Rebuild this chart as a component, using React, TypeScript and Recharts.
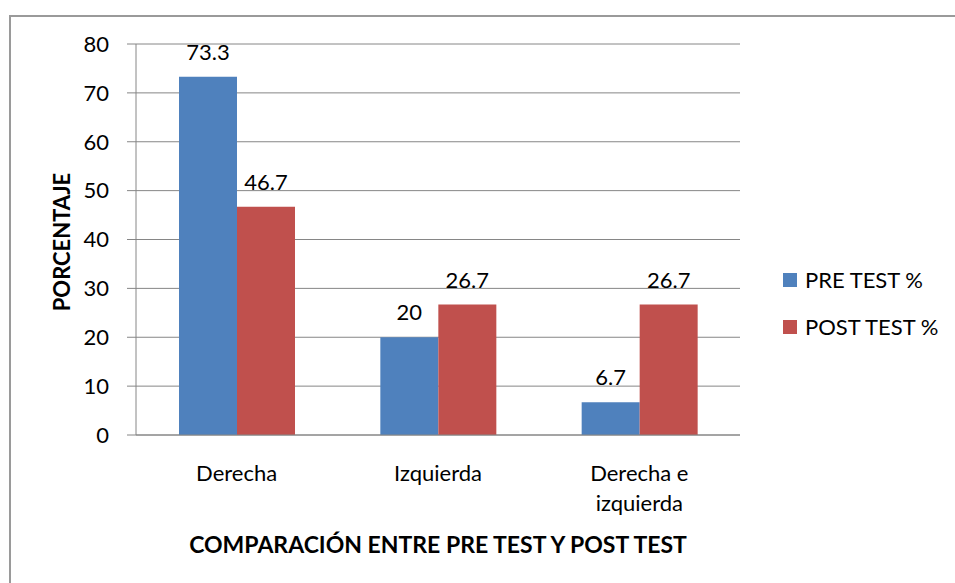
import React from 'react';
import { BarChart, Bar, XAxis, YAxis, CartesianGrid, Legend, LabelList } from 'recharts';

const categories = ['Derecha', 'Izquierda', 'Derecha e\nizquierda'];
const preTest = [73.3, 20, 6.7];
const postTest = [46.7, 26.7, 26.7];
const yTicks = [0, 10, 20, 30, 40, 50, 60, 70, 80];

const FONT = 'Lato, "Open Sans", sans-serif';
const BLUE = '#4F81BD';
const RED = '#C0504D';
const GRID = '#868686';

const data = categories.map((name, i) => ({ name, pre: preTest[i], post: postTest[i] }));

const seriesInfo = [
    { key: 'pre', label: 'PRE TEST %', color: BLUE },
    { key: 'post', label: 'POST TEST %', color: RED },
];

// multi-line category labels
const CategoryTick = (props: any) => {
    const { x, y, payload } = props;
    const lines = String(payload.value).split('\n');
    return (
        <text x={x} y={y} textAnchor="middle" fontFamily={FONT} fontSize={22} fill="#000">
            {lines.map((l, i) => (
                <tspan key={i} x={x} dy={i === 0 ? 38 : 30}>{l}</tspan>
            ))}
        </text>
    );
};

const LegendBox = () => (
    <div style={{ fontFamily: FONT, fontSize: 22, color: '#000' }}>
        {seriesInfo.map((s) => (
            <div key={s.key} style={{ display: 'flex', alignItems: 'center', height: 47 }}>
                <span style={{ width: 14, height: 14, background: s.color, marginRight: 8, display: 'inline-block' }} />
                <span>{s.label}</span>
            </div>
        ))}
    </div>
);

export default function App() {
    return (
        <div style={{ position: 'absolute', left: 0, top: 0, width: 955, height: 583, background: '#fff', overflow: 'hidden' }}>
            <div style={{ position: 'absolute', left: 9, top: 15, width: 960, height: 600, borderLeft: '2px solid #9a9a9a', borderTop: '2px solid #9a9a9a' }} />
            <BarChart
                width={955}
                height={583}
                data={data}
                margin={{ top: 44, right: 215, bottom: 0, left: 0 }}
                barGap={0}
                style={{ position: 'absolute', left: 0, top: 0 }}
            >
                <CartesianGrid vertical={false} stroke={GRID} strokeWidth={1} />
                <XAxis
                    dataKey="name"
                    height={148}
                    axisLine={{ stroke: GRID }}
                    tickLine={false}
                    tick={<CategoryTick />}
                    interval={0}
                    label={{
                        content: () => (
                            <text x={438} y={553} textAnchor="middle" fontFamily={FONT} fontSize={23} fontWeight="bold" fill="#000">
                                COMPARACIÓN ENTRE PRE TEST Y POST TEST
                            </text>
                        ),
                    }}
                />
                <YAxis
                    width={136}
                    domain={[0, 80]}
                    ticks={yTicks}
                    interval={0}
                    axisLine={{ stroke: GRID }}
                    tickLine={{ stroke: GRID }}
                    tickSize={9}
                    tickMargin={18}
                    tick={{ fontFamily: FONT, fontSize: 22, fill: '#000' }}
                    label={{
                        content: () => (
                            <text x={70} y={242} transform="rotate(-90 70 242)" textAnchor="middle" fontFamily={FONT} fontSize={22} fontWeight="bold" fill="#000">
                                PORCENTAJE
                            </text>
                        ),
                    }}
                />
                <Legend
                    layout="vertical"
                    align="center"
                    verticalAlign="middle"
                    content={<LegendBox />}
                    wrapperStyle={{ left: 783, top: 256, width: 172 }}
                />
                {seriesInfo.map((s) => (
                    <Bar key={s.key} dataKey={s.key} name={s.label} fill={s.color} barSize={58} isAnimationActive={false}>
                        <LabelList dataKey={s.key} position="top" offset={17} fontFamily={FONT} fontSize={22} fill="#000" />
                    </Bar>
                ))}
            </BarChart>
        </div>
    );
}
